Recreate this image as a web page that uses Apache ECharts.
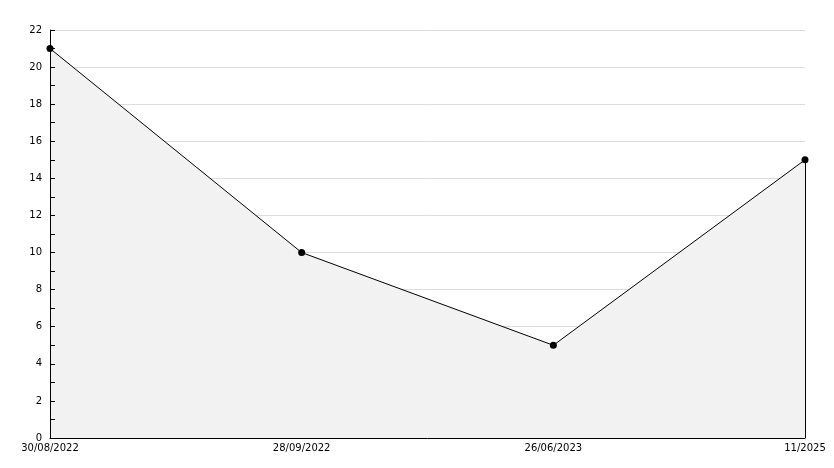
<!DOCTYPE html>
<html>
<head>
<meta charset="utf-8">
<script src="https://cdn.jsdelivr.net/npm/echarts@6/dist/echarts.min.js"></script>
<style>
  html, body { margin: 0; padding: 0; background: #fff; }
  #chart { width: 834px; height: 468px; }
</style>
</head>
<body>
<div id="chart"></div>
<script>
  // data
  var dates = ['30/08/2022', '28/09/2022', '26/06/2023', '11/2025'];
  var values = [21, 10, 5, 15];

  var myChart = echarts.init(document.getElementById('chart'));
  var lastIdx = dates.length - 1;

  var labelStyle = { color: '#000', fontFamily: 'DejaVu Sans', fontSize: 10 };

  var option = {
    animation: false,
    grid: { left: 50, right: 29, top: 30, bottom: 30 },
    xAxis: [{
      // base axis: labels only
      type: 'category',
      data: dates,
      boundaryGap: false,
      axisLine: { show: false },
      axisTick: { show: false },
      axisLabel: Object.assign({ margin: 5, interval: 0 }, labelStyle),
      splitLine: { show: false }
    }, {
      // overlay: axis line drawn above the area fill
      type: 'category',
      data: dates,
      boundaryGap: false,
      position: 'bottom',
      z: 10,
      axisLine: { show: true, lineStyle: { color: '#000', width: 1 } },
      axisTick: { show: false },
      axisLabel: { show: false },
      splitLine: { show: false }
    }],
    yAxis: [{
      // base axis: labels and grid lines (under the area)
      type: 'value',
      min: 0,
      max: 22,
      interval: 2,
      axisLine: { show: false },
      axisTick: { show: false },
      axisLabel: Object.assign({ margin: 8 }, labelStyle),
      splitLine: { show: true, lineStyle: { color: '#dddddd', width: 1 } }
    }, {
      // overlay: axis line and ticks drawn above the area fill
      type: 'value',
      min: 0,
      max: 22,
      interval: 2,
      position: 'left',
      z: 10,
      axisLine: { show: true, lineStyle: { color: '#000', width: 1 } },
      axisTick: { show: true, inside: true, length: 5, lineStyle: { color: '#000' } },
      minorTick: { show: true, splitNumber: 2, length: 5, lineStyle: { color: '#000' } },
      axisLabel: { show: false },
      splitLine: { show: false }
    }],
    series: [{
      type: 'line',
      xAxisIndex: 0,
      yAxisIndex: 0,
      data: values,
      symbol: 'circle',
      symbolSize: 7,
      itemStyle: { color: '#000' },
      lineStyle: { color: '#000', width: 1 },
      areaStyle: { color: '#f2f2f2', opacity: 1 },
      markLine: {
        silent: true,
        symbol: 'none',
        label: { show: false },
        lineStyle: { color: '#000', width: 1, type: 'solid' },
        data: [[
          { xAxis: dates[lastIdx], yAxis: values[lastIdx] },
          { xAxis: dates[lastIdx], yAxis: 0 }
        ]]
      }
    }]
  };

  myChart.setOption(option);
</script>
</body>
</html>
